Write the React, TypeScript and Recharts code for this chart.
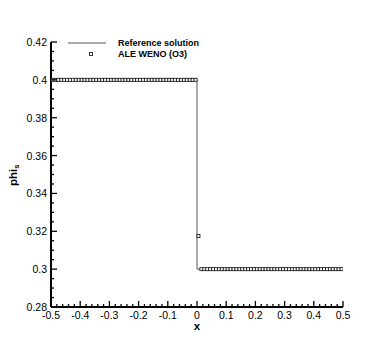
import * as React from "react";
import { ComposedChart, Line, Scatter, XAxis, YAxis } from "recharts";

if (typeof document !== "undefined") document.body.style.margin = "0";

// reference (exact) solution: a step at x = 0
const refX = [-0.5, 0, 0, 0.5];
const refY = [0.4, 0.4, 0.3, 0.3];

// ALE WENO (O3) cell centres and values
const wenoX = [
  -0.495, -0.485, -0.475, -0.465, -0.455, -0.445, -0.435, -0.425, -0.415, -0.405,
  -0.395, -0.385, -0.375, -0.365, -0.355, -0.345, -0.335, -0.325, -0.315, -0.305,
  -0.295, -0.285, -0.275, -0.265, -0.255, -0.245, -0.235, -0.225, -0.215, -0.205,
  -0.195, -0.185, -0.175, -0.165, -0.155, -0.145, -0.135, -0.125, -0.115, -0.105,
  -0.095, -0.085, -0.075, -0.065, -0.055, -0.045, -0.035, -0.025, -0.015, -0.005,
  0.005, 0.015, 0.025, 0.035, 0.045, 0.055, 0.065, 0.075, 0.085, 0.095,
  0.105, 0.115, 0.125, 0.135, 0.145, 0.155, 0.165, 0.175, 0.185, 0.195,
  0.205, 0.215, 0.225, 0.235, 0.245, 0.255, 0.265, 0.275, 0.285, 0.295,
  0.305, 0.315, 0.325, 0.335, 0.345, 0.355, 0.365, 0.375, 0.385, 0.395,
  0.405, 0.415, 0.425, 0.435, 0.445, 0.455, 0.465, 0.475, 0.485, 0.495,
];
const wenoY = [
  0.4, 0.4, 0.4, 0.4, 0.4, 0.4, 0.4, 0.4, 0.4, 0.4,
  0.4, 0.4, 0.4, 0.4, 0.4, 0.4, 0.4, 0.4, 0.4, 0.4,
  0.4, 0.4, 0.4, 0.4, 0.4, 0.4, 0.4, 0.4, 0.4, 0.4,
  0.4, 0.4, 0.4, 0.4, 0.4, 0.4, 0.4, 0.4, 0.4, 0.4,
  0.4, 0.4, 0.4, 0.4, 0.4, 0.4, 0.4, 0.4, 0.4, 0.4,
  0.3175, 0.3, 0.3, 0.3, 0.3, 0.3, 0.3, 0.3, 0.3, 0.3,
  0.3, 0.3, 0.3, 0.3, 0.3, 0.3, 0.3, 0.3, 0.3, 0.3,
  0.3, 0.3, 0.3, 0.3, 0.3, 0.3, 0.3, 0.3, 0.3, 0.3,
  0.3, 0.3, 0.3, 0.3, 0.3, 0.3, 0.3, 0.3, 0.3, 0.3,
  0.3, 0.3, 0.3, 0.3, 0.3, 0.3, 0.3, 0.3, 0.3, 0.3,
];

const xMajor = [-0.5, -0.4, -0.3, -0.2, -0.1, 0, 0.1, 0.2, 0.3, 0.4, 0.5];
const xMinor = [
  -0.48, -0.46, -0.44, -0.42, -0.38, -0.36, -0.34, -0.32, -0.28, -0.26, -0.24, -0.22,
  -0.18, -0.16, -0.14, -0.12, -0.08, -0.06, -0.04, -0.02, 0.02, 0.04, 0.06, 0.08,
  0.12, 0.14, 0.16, 0.18, 0.22, 0.24, 0.26, 0.28, 0.32, 0.34, 0.36, 0.38,
  0.42, 0.44, 0.46, 0.48,
];
const yMajor = [0.28, 0.3, 0.32, 0.34, 0.36, 0.38, 0.4, 0.42];
const yMinor = [
  0.285, 0.29, 0.295, 0.305, 0.31, 0.315, 0.325, 0.33, 0.335, 0.345, 0.35, 0.355,
  0.365, 0.37, 0.375, 0.385, 0.39, 0.395, 0.405, 0.41, 0.415,
];

const FONT = "'Liberation Sans', Arial, Helvetica, sans-serif";

const refData = refX.map((x, i) => ({ x, y: refY[i] }));
const wenoData = wenoX.map((x, i) => ({ x, y: wenoY[i] }));

const XTick = ({ x, y, payload }: any) => {
  const major = xMajor.includes(payload.value);
  return (
    <g>
      <line x1={x} x2={x} y1={y} y2={y - (major ? 6 : 3)} stroke="#000" strokeWidth={1.3} />
      {major && (
        <text x={x} y={y + 11.5} textAnchor="middle" fontSize={10.5} fontFamily={FONT} fill="#000">
          {String(payload.value)}
        </text>
      )}
    </g>
  );
};

const YTick = ({ x, y, payload }: any) => {
  const major = yMajor.includes(payload.value);
  return (
    <g>
      <line x1={x} x2={x + (major ? 6 : 3)} y1={y} y2={y} stroke="#000" strokeWidth={1.3} />
      {major && (
        <text x={x - 4} y={y + 4} textAnchor="end" fontSize={10.5} fontFamily={FONT} fill="#000">
          {String(payload.value)}
        </text>
      )}
    </g>
  );
};

const SquareDot = ({ cx, cy }: any) => (
  <rect x={cx - 1.5} y={cy - 1.5} width={3} height={3} fill="#fff" stroke="#222" strokeWidth={0.9} />
);

export default function App() {
  return (
    <div style={{ position: "relative", width: 390, height: 347, background: "#fff" }}>
      <ComposedChart width={390} height={347} margin={{ top: 42, right: 47, bottom: 0, left: 0 }}>
        <XAxis
          type="number"
          dataKey="x"
          domain={[-0.5, 0.5]}
          ticks={[...xMajor, ...xMinor]}
          interval={0}
          tickSize={0}
          tickMargin={0}
          height={40}
          axisLine={{ stroke: "#000", strokeWidth: 2 }}
          tick={<XTick />}
          allowDataOverflow
        />
        <YAxis
          type="number"
          dataKey="y"
          domain={[0.28, 0.42]}
          ticks={[...yMajor, ...yMinor]}
          interval={0}
          tickSize={0}
          tickMargin={0}
          width={51}
          axisLine={{ stroke: "#000", strokeWidth: 2 }}
          tick={<YTick />}
          allowDataOverflow
        />
        <Line
          data={refData}
          dataKey="y"
          type="linear"
          stroke="#555"
          strokeWidth={1}
          dot={false}
          isAnimationActive={false}
        />
        <Scatter data={wenoData} dataKey="y" shape={<SquareDot />} isAnimationActive={false} />
      </ComposedChart>

      <svg width={390} height={347} style={{ position: "absolute", left: 0, top: 0, pointerEvents: "none" }}>
        <text x={197} y={330} textAnchor="middle" fontSize={11.5} fontWeight="bold" fontFamily={FONT}>
          x
        </text>
        <text
          transform="translate(17,186) rotate(-90)"
          textAnchor="start"
          fontSize={11.5}
          fontWeight="bold"
          fontFamily={FONT}
        >
          phi<tspan fontSize={7.5} dy={2}>s</tspan>
        </text>
        <line x1={68} x2={106} y1={43} y2={43} stroke="#555" strokeWidth={1} />
        <rect x={89.5} y={52.5} width={3} height={3} fill="#fff" stroke="#222" strokeWidth={0.9} />
        <text x={118} y={46} fontSize={9} fontWeight="bold" fontFamily={FONT}>
          Reference solution
        </text>
        <text x={118} y={57} fontSize={9} fontWeight="bold" fontFamily={FONT}>
          ALE WENO (O3)
        </text>
      </svg>
    </div>
  );
}
